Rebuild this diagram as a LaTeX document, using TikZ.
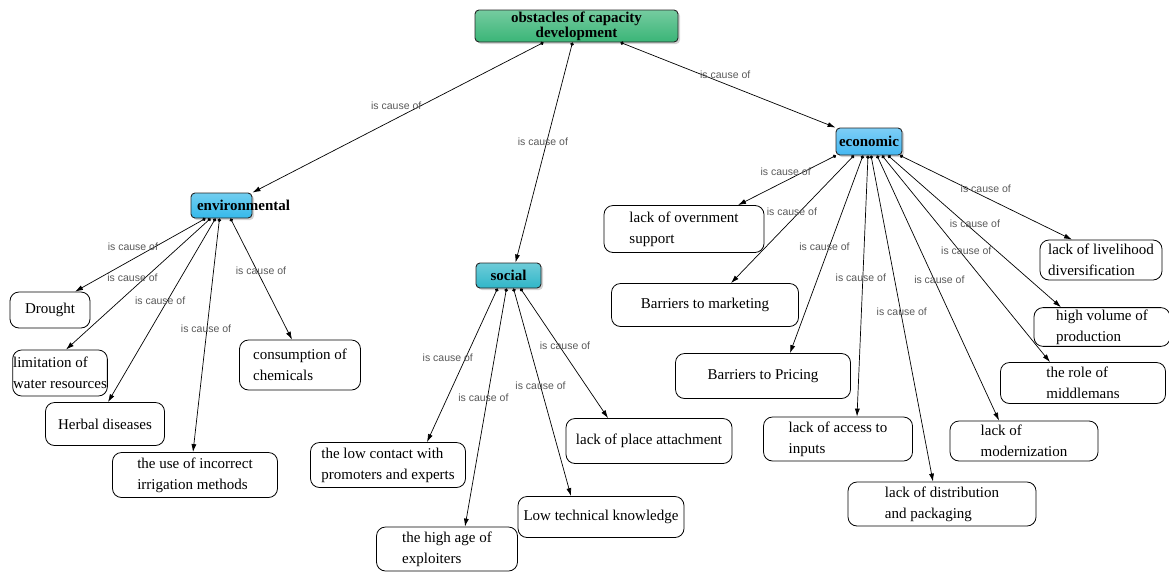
\documentclass[tikz,border=0pt]{standalone}
\usepackage{fontspec}
\setmainfont{Liberation Serif}
\newfontfamily\labelfont{Liberation Sans}
\usetikzlibrary{arrows.meta,shadows}
\definecolor{topgreen}{HTML}{3AB577}
\definecolor{envblue}{HTML}{35B9EA}
\definecolor{socteal}{HTML}{30B6C8}
\definecolor{ecoblue}{HTML}{45B8F2}
\begin{document}
\begin{tikzpicture}[x=1pt,y=-1pt,
    cat/.style={draw=black!85, line width=0.9pt, rounded corners=4pt, inner xsep=3pt, inner ysep=1pt,
      font=\bfseries\fontsize{15}{13.5}\selectfont, align=center,
      drop shadow={shadow xshift=2pt, shadow yshift=-2pt, opacity=.35}},
    leaf/.style={draw, line width=0.8pt, rounded corners=9pt, inner xsep=4pt, inner ysep=2pt,
      font=\fontsize{15}{21}\selectfont, align=left},
    cause/.style={line width=0.7pt, {Circle[length=3.5pt]}-{Latex[length=8pt,width=5pt]}},
    lbl/.style={font=\labelfont\fontsize{10.5}{12}\selectfont, text=black!65, inner sep=0pt}]
\useasboundingbox (0,0) rectangle (1169,571);
% top and categories
\node[cat, top color=topgreen!70!white, bottom color=topgreen, minimum width=203pt, minimum height=32pt]
  (top) at (576.5,26) {obstacles of capacity\\development};
\node[cat, top color=envblue!70!white, bottom color=envblue, text width=49pt, align=left, inner xsep=6pt,
  minimum height=25pt] (env) at (221.5,205.5) {\mbox{environmental}};
\node[cat, top color=socteal!70!white, bottom color=socteal, minimum width=65pt, minimum height=25pt]
  (soc) at (508.5,275.5) {social};
\node[cat, top color=ecoblue!70!white, bottom color=ecoblue, minimum width=66pt, minimum height=27pt]
  (eco) at (869,141.5) {economic};
% environmental leaves
\node[leaf, minimum width=80pt, minimum height=36pt, align=center] (drought) at (50,310) {Drought};
\node[leaf, inner xsep=0.5pt, minimum height=46pt] (water) at (60,373) {limitation of\\water resources};
\node[leaf, minimum width=119pt, minimum height=43pt, align=center] (herbal) at (105,424) {Herbal diseases};
\node[leaf, minimum width=165pt, minimum height=45pt] (irrig) at (195,475) {the use of incorrect\\irrigation methods};
\node[leaf, minimum width=121pt, minimum height=50pt] (chem) at (300,365) {consumption of\\chemicals};
% social leaves
\node[leaf, minimum width=155pt, minimum height=45pt] (contact) at (388,465) {the low contact with\\promoters and experts};
\node[leaf, minimum width=141pt, minimum height=44pt] (age) at (447,549) {the high age of\\exploiters};
\node[leaf, minimum width=166pt, minimum height=41pt, align=center] (techn) at (601,517) {Low technical knowledge};
\node[leaf, minimum width=166pt, minimum height=45pt, align=center] (place) at (649,441) {lack of place attachment};
% economic leaves
\node[leaf, minimum width=160pt, minimum height=47pt] (gov) at (684,229) {lack of overnment\\support};
\node[leaf, minimum width=187pt, minimum height=43pt, align=center] (market) at (705,305) {Barriers to marketing};
\node[leaf, minimum width=175pt, minimum height=45pt, align=center] (price) at (763,376) {Barriers to Pricing};
\node[leaf, minimum width=149pt, minimum height=44pt] (access) at (838,439) {lack of access to\\inputs};
\node[leaf, minimum width=188pt, minimum height=44pt] (distrib) at (942,504) {lack of distribution\\and packaging};
\node[leaf, minimum width=148pt, minimum height=40pt] (modern) at (1024,441) {lack of\\modernization};
\node[leaf, minimum width=165pt, minimum height=41pt] (middle) at (1083,383) {the role of\\middlemans};
\node[leaf, minimum width=136pt, minimum height=38pt] (volume) at (1102,327) {high volume of\\production};
\node[leaf, minimum width=122pt, minimum height=40pt] (liveli) at (1101,260) {lack of livelihood\\diversification};
% top links
\draw[cause] ([xshift=-33pt]top.south) -- (env.north east) node[lbl, pos=.42, xshift=-25pt] (l-env) {is cause of};
\draw[cause] ([xshift=-4pt]top.south) -- ([xshift=7pt]soc.north) node[lbl, pos=.45, xshift=-4pt] (l-soc) {is cause of};
\draw[cause] ([xshift=44pt]top.south) -- (eco.north west) node[lbl, pos=.38, xshift=23pt] (l-eco) {is cause of};
% environmental links
\draw[cause] ([xshift=-16pt]env.south) -- ([xshift=25pt]drought.north) node[lbl, pos=.38, xshift=-23pt] (l-drought) {is cause of};
\draw[cause] ([xshift=-11pt]env.south) -- ([xshift=6pt]water.north) node[lbl, pos=.45, xshift=-13pt] (l-water) {is cause of};
\draw[cause] ([xshift=-6pt]env.south) -- ([xshift=3pt]herbal.north) node[lbl, pos=.45, xshift=-7pt] (l-herbal) {is cause of};
\draw[cause] ([xshift=-2pt]env.south) -- ([xshift=-2pt]irrig.north) node[lbl, pos=.47, xshift=-1pt] (l-irrig) {is cause of};
\draw[cause] ([xshift=9pt]env.south) -- ([xshift=-8pt]chem.north) node[lbl, pos=.43, xshift=4pt] (l-chem) {is cause of};
% social links
\draw[cause] ([xshift=-11pt]soc.south) -- ([xshift=39pt]contact.north) node[lbl, pos=.45, xshift=-18pt] (l-contact) {is cause of};
\draw[cause] ([xshift=-2pt]soc.south) -- ([xshift=18pt]age.north) node[lbl, pos=.46, xshift=-4pt] (l-age) {is cause of};
\draw[cause] ([xshift=5pt]soc.south) -- ([xshift=-30pt]techn.north) node[lbl, pos=.47] (l-techn) {is cause of};
\draw[cause] ([xshift=12pt]soc.south) -- ([xshift=-41pt]place.north) node[lbl, pos=.44, xshift=6pt] (l-place) {is cause of};
% economic links
\draw[cause] ([xshift=-33pt]eco.south) -- ([xshift=54pt]gov.north) node[lbl, pos=.32, xshift=-19pt] (l-gov) {is cause of};
\draw[cause] ([xshift=-15pt]eco.south) -- ([xshift=26pt]market.north) node[lbl, pos=.44, xshift=-8pt] (l-market) {is cause of};
\draw[cause] ([xshift=-6pt]eco.south) -- ([xshift=27pt]price.north) node[lbl, pos=.46, xshift=-5pt] (l-price) {is cause of};
\draw[cause] ([xshift=-1pt]eco.south) -- ([xshift=19pt]access.north) node[lbl, pos=.47, xshift=-2pt] (l-access) {is cause of};
\draw[cause] ([xshift=2pt]eco.south) -- ([xshift=-9pt]distrib.north) node[lbl, pos=.48, xshift=1pt] (l-distrib) {is cause of};
\draw[cause] ([xshift=8pt]eco.south) -- ([xshift=-25pt]modern.north) node[lbl, pos=.47, xshift=5pt] (l-modern) {is cause of};
\draw[cause] ([xshift=13pt]eco.south) -- ([xshift=-33pt]middle.north) node[lbl, pos=.46, xshift=7pt] (l-middle) {is cause of};
\draw[cause] ([xshift=19pt]eco.south) -- ([xshift=-41pt]volume.north) node[lbl, pos=.45, xshift=9pt] (l-volume) {is cause of};
\draw[cause] ([xshift=31pt]eco.south) -- ([xshift=-29pt]liveli.north) node[lbl, pos=.40, xshift=17pt] (l-liveli) {is cause of};
\end{tikzpicture}
\end{document}
